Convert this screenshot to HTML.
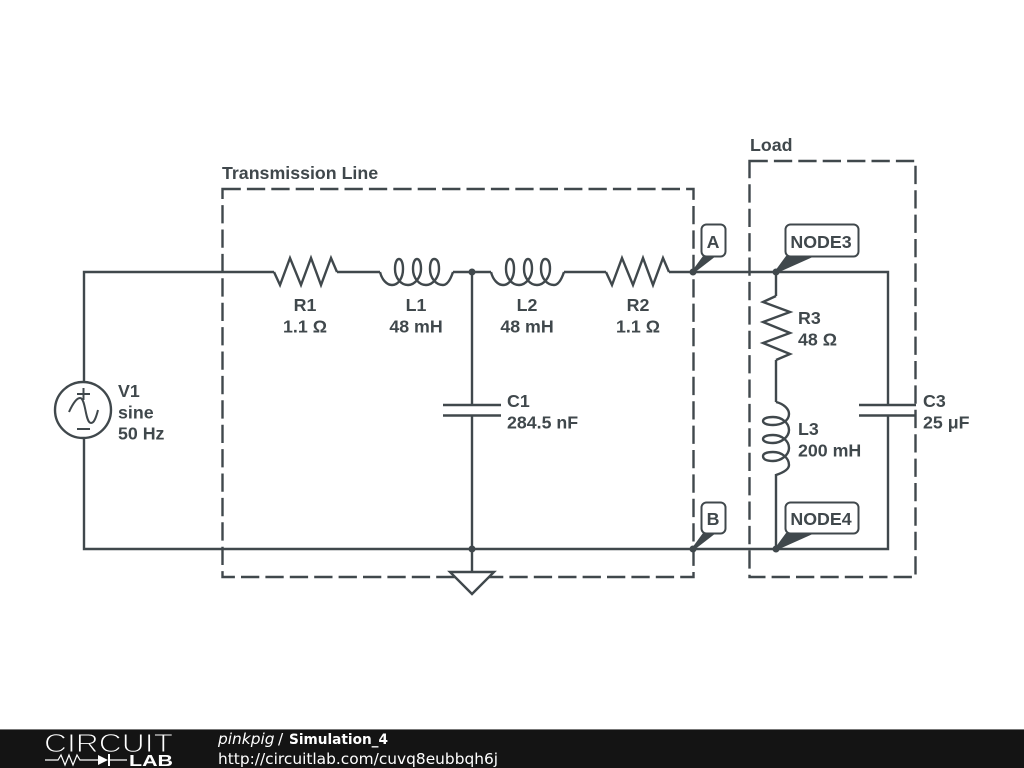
<!DOCTYPE html>
<html><head><meta charset="utf-8"><style>
html,body{margin:0;padding:0;background:#fff;width:1024px;height:768px;overflow:hidden}
svg{display:block}
.t{font-family:"Liberation Sans",sans-serif;font-weight:bold;font-size:17.8px;fill:#40484c}
.m{text-anchor:middle}
.w{fill:none;stroke:#40484c;stroke-width:2.4;stroke-linejoin:miter}
.d{fill:none;stroke:#40484c;stroke-width:2.4;stroke-dasharray:18.3 6.1}
.b{fill:#fff;stroke:#40484c;stroke-width:2}
.p{fill:#40484c}
.f{font-family:"DejaVu Sans",sans-serif;font-size:15.4px;fill:#fff}
</style></head><body>
<svg width="1024" height="768" viewBox="0 0 1024 768" xmlns="http://www.w3.org/2000/svg">
<defs>
<path id="coil" d="M0 0C2 8 7 13 12 13C19 13 23 5 23 -3C23 -10 21 -13 19 -13C17 -13 15 -10 15 -3C15 6 21 13 28 13C35 13 41 5 41 -3C41 -10 39 -13 37 -13C35 -13 33 -10 33 -3C33 6 39 13 46 13C53 13 59 5 59 -3C59 -10 57 -13 54 -13C52 -13 50 -10 50 -3C50 6 56 13 63 13C68 13 71 6 73 0"/>
<polyline id="res" points="0,0 6,13 16,-14 27,13 37,-14 47,13 57,-14 63,0"/>
</defs>
<path class="d" d="M222.500 189H693.500V577H222.500Z"/>
<path class="d" d="M749.500 161H915.500V577H749.500Z"/>
<path class="w" d="M84 382V272H274M337 272H380M453 272H491M564 272H606M669 272H888V405M888 415.500V549H84V438M776 272V296M776 360V402M776 474V549M472 272V405M472 415.500V572"/>
<use href="#res" class="w" x="274" y="272"/>
<use href="#res" class="w" x="606" y="272"/>
<use href="#coil" class="w" x="380" y="272"/>
<use href="#coil" class="w" x="491" y="272"/>
<use href="#coil" class="w" transform="matrix(0 1 1 0 776 402)"/>
<polyline class="w" points="776,296 763,302 790,312 763,322 790,333 763,343 790,354 776,360"/>
<path class="w" d="M443 405H501M443 415.500H501M859 405H916M859 415.500H916"/>
<circle cx="83" cy="410" r="28" fill="#fff" stroke="#40484c" stroke-width="2.4"/>
<path class="w" style="stroke-width:2" d="M69 412C73 403 77 398 80 398C86 398 85 423 91 423C94 423 96 418 98 410M83.500 388V400M77 394H90M77 429H90"/>
<polygon points="450,572 494,572 472,594" fill="#fff" stroke="#40484c" stroke-width="2.4"/>
<g class="p">
<circle cx="472" cy="272" r="3.500"/><circle cx="693" cy="272" r="3.500"/><circle cx="776" cy="272" r="3.500"/>
<circle cx="472" cy="549" r="3.500"/><circle cx="693" cy="549" r="3.500"/><circle cx="776" cy="549" r="3.500"/>
<polygon points="692,271 703,256 716,256 694,273"/><polygon points="775,271 786,256 815,256 777,273"/>
<polygon points="692,548 703,533 716,533 694,550"/><polygon points="775,548 786,533 815,533 777,550"/>
</g>
<rect class="b" x="701.500" y="224.500" width="24" height="32" rx="5"/>
<rect class="b" x="785.500" y="224.500" width="73" height="32" rx="5"/>
<rect class="b" x="701.500" y="502.500" width="24" height="31" rx="5"/>
<rect class="b" x="785.500" y="502.500" width="73" height="31" rx="5"/>
<text class="t m" x="713" y="248">A</text>
<text class="t m" x="821" y="248">NODE3</text>
<text class="t m" x="713" y="525">B</text>
<text class="t m" x="821" y="525">NODE4</text>
<text class="t" x="222" y="179">Transmission Line</text>
<text class="t" x="750" y="151">Load</text>
<text class="t m" x="305" y="311">R1</text><text class="t m" x="305" y="332.700">1.1 Ω</text>
<text class="t m" x="416" y="311">L1</text><text class="t m" x="416" y="332.700">48 mH</text>
<text class="t m" x="527" y="311">L2</text><text class="t m" x="527" y="332.700">48 mH</text>
<text class="t m" x="638" y="311">R2</text><text class="t m" x="638" y="332.700">1.1 Ω</text>
<text class="t" x="798" y="324">R3</text><text class="t" x="798" y="345.700">48 Ω</text>
<text class="t" x="798" y="435">L3</text><text class="t" x="798" y="456.700">200 mH</text>
<text class="t" x="118" y="397">V1</text><text class="t" x="118" y="418.700">sine</text><text class="t" x="118" y="439.700">50 Hz</text>
<text class="t" x="507" y="407">C1</text><text class="t" x="507" y="428.700">284.5 nF</text>
<text class="t" x="923" y="407">C3</text><text class="t" x="923" y="428.700">25 μF</text>
<rect x="0" y="729" width="1024" height="39" fill="#141414"/>
<rect x="0" y="729" width="1024" height="1" fill="#777"/>
<text x="44" y="752" textLength="129" lengthAdjust="spacingAndGlyphs" style="font-family:'Liberation Sans',sans-serif;font-size:26px;fill:#fff;stroke:#141414;stroke-width:1">CIRCUIT</text>
<path d="M45 760H58L61 755L65 765L69 755L73 765L77 755L80 760H98M110 760H127" fill="none" stroke="#fff" stroke-width="1.200"/>
<polygon points="98,755 98,765 108,760" fill="#fff"/><rect x="108" y="754" width="2" height="12" fill="#fff"/>
<text x="129" y="766" textLength="44" lengthAdjust="spacingAndGlyphs" style="font-family:'Liberation Sans',sans-serif;font-size:16px;font-weight:bold;fill:#fff">LAB</text>
<text class="f" x="218" y="744" font-style="italic">pinkpig</text>
<text class="f" x="278" y="744">/</text>
<text class="f" x="289" y="744" textLength="99" lengthAdjust="spacingAndGlyphs" style="font-weight:bold;font-size:14px">Simulation_4</text>
<text class="f" x="218" y="764">http://circuitlab.com/cuvq8eubbqh6j</text>
</svg>
</body></html>
